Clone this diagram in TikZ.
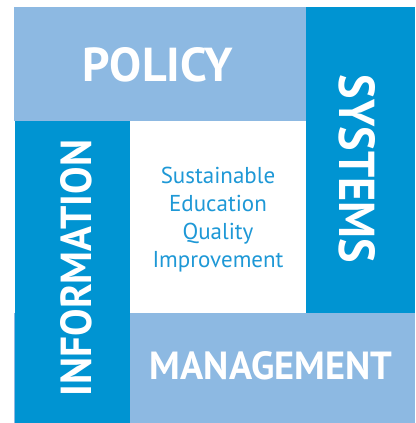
\documentclass[tikz,border=0pt]{standalone}
\usepackage{fontspec}
\setmainfont{PT Sans}
\usepackage{graphicx}
\definecolor{lightb}{HTML}{8DB9E2}
\definecolor{darkb}{HTML}{0094D2}
\definecolor{handb}{HTML}{1E98D6}
\tikzset{
  label/.style={text=white, inner sep=0pt, font=\bfseries},
  hand/.style={text=handb, inner sep=0pt, anchor=base, font=\fontsize{23}{28}\selectfont}
}
\begin{document}
\begin{tikzpicture}[x=1pt,y=-1pt]
\useasboundingbox (0,0) rectangle (415,423);
\fill[lightb] (14,7) rectangle (306,121);
\fill[darkb] (306,7) rectangle (415,313);
\fill[lightb] (14,313) rectangle (415,423);
\fill[darkb] (15,121) rectangle (130,423);
\node[label] (policy) at (158,65) {\resizebox{150pt}{34pt}{POLICY}};
\node[label, rotate=-90] (systems) at (357,169) {\resizebox{188pt}{36pt}{SYSTEMS}};
\node[label, rotate=90] (information) at (76.5,268) {\resizebox{256pt}{31pt}{INFORMATION}};
\node[label] (management) at (271,366) {\resizebox{242pt}{28pt}{MANAGEMENT}};
\node[hand] (l1) at (218,183) {Sustainable};
\node[hand] (l2) at (218,211) {Education};
\node[hand] (l3) at (218,239) {Quality};
\node[hand] (l4) at (218,267) {Improvement};
\end{tikzpicture}
\end{document}
